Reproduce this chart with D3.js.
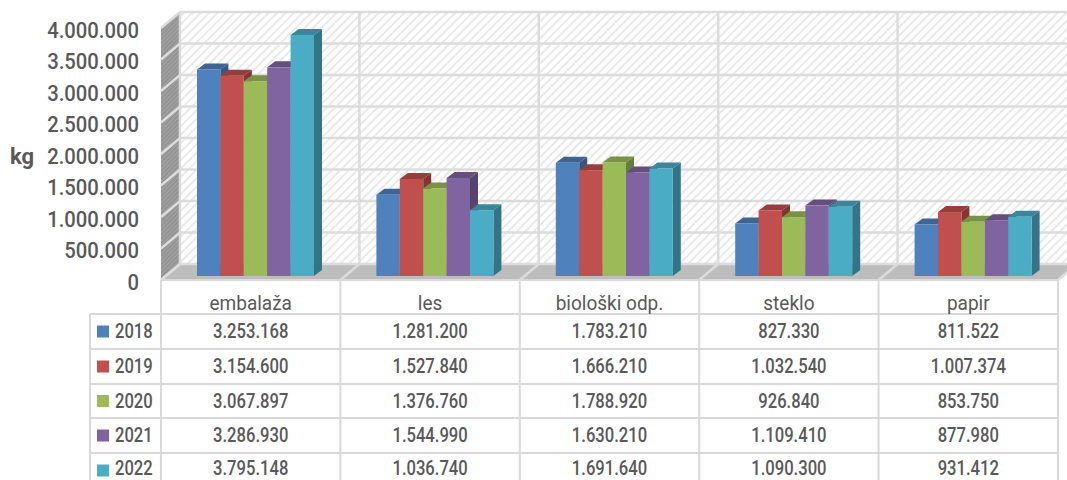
<!DOCTYPE html>
<html>
<head>
<meta charset="utf-8">
<script src="https://cdn.jsdelivr.net/npm/d3@7"></script>
<style>
html, body { margin: 0; padding: 0; background: #fff; overflow: hidden; }
text { font-family: Roboto, sans-serif; fill: #595959; }
</style>
</head>
<body>
<div id="chart"></div>
<script>
var categories = ["embalaža", "les", "biološki odp.", "steklo", "papir"];
var years = ["2018", "2019", "2020", "2021", "2022"];
var values2018 = [3253168, 1281200, 1783210, 827330, 811522];
var values2019 = [3154600, 1527840, 1666210, 1032540, 1007374];
var values2020 = [3067897, 1376760, 1788920, 926840, 853750];
var values2021 = [3286930, 1544990, 1630210, 1109410, 877980];
var values2022 = [3795148, 1036740, 1691640, 1090300, 931412];
var yTicks = [0, 500000, 1000000, 1500000, 2000000, 2500000, 3000000, 3500000, 4000000];
var colors = ["#4f81bd", "#c0504d", "#9bbb59", "#8064a2", "#4bacc6"];

var series = [values2018, values2019, values2020, values2021, values2022];

var width = 1067;
var height = 480;
var svg = d3.select("#chart").append("svg")
    .attr("width", width)
    .attr("height", height)
    .style("display", "block");

var numFmt = d3.formatLocale({ decimal: ",", thousands: ".", grouping: [3], currency: ["", ""] }).format(",d");

// depth offset of the fake 3d box
var dx = 19, dy = 16;
var x = d3.scaleBand().domain(categories).range([161, 1058]);
var y = d3.scaleLinear().domain([0, 4000000]).range([280, 28]);
var barY = d3.scaleLinear().domain([0, 4000000]).range([276, 22]);
var inner = d3.scaleBand().domain(years).range([36, 153]);

var defs = svg.append("defs");
var hatch = defs.append("pattern").attr("id", "hatch")
    .attr("width", 6).attr("height", 6)
    .attr("patternUnits", "userSpaceOnUse")
    .attr("patternTransform", "rotate(45)");
hatch.append("rect").attr("width", 6).attr("height", 6).attr("fill", "#fff");
hatch.append("rect").attr("width", 2).attr("height", 6).attr("fill", "#e9e9e9");
var dots = defs.append("pattern").attr("id", "dots")
    .attr("width", 3).attr("height", 3)
    .attr("patternUnits", "userSpaceOnUse")
    .attr("patternTransform", "rotate(45)");
dots.append("rect").attr("width", 3).attr("height", 3).attr("fill", "#a3a3a3");
dots.append("rect").attr("width", 1.5).attr("height", 3).attr("fill", "#8f8f8f");

var wallRight = 1077;
var grid = "#dcdcdc";

// back wall
svg.append("rect")
    .attr("x", 161 + dx).attr("y", y(4000000) - dy)
    .attr("width", wallRight - 161 - dx).attr("height", y(0) - y(4000000))
    .attr("fill", "url(#hatch)");
// left wall
svg.append("polygon")
    .attr("points", [[161, y(4000000)], [161 + dx, y(4000000) - dy], [161 + dx, y(0) - dy], [161, y(0)]].join(" "))
    .attr("fill", "url(#dots)");
// floor
svg.append("polygon")
    .attr("points", [[161, y(0)], [161 + dx, y(0) - dy], [wallRight, y(0) - dy], [wallRight - dx, y(0)]].join(" "))
    .attr("fill", "#bdbdbd");

// horizontal gridlines, wall and back
svg.selectAll(".gridBack").data(yTicks).enter().append("line")
    .attr("x1", 161 + dx).attr("x2", wallRight)
    .attr("y1", function(d) { return y(d) - dy; })
    .attr("y2", function(d) { return y(d) - dy; })
    .attr("stroke", grid).attr("stroke-width", 2.5);
svg.selectAll(".gridSide").data(yTicks).enter().append("line")
    .attr("x1", 161).attr("x2", 161 + dx)
    .attr("y1", function(d) { return y(d); })
    .attr("y2", function(d) { return y(d) - dy; })
    .attr("stroke", grid).attr("stroke-width", 2.5);

// verticals on back wall and floor
var edges = categories.map(function(c) { return x(c); }).concat([x.range()[1]]);
svg.selectAll(".gridV").data(edges).enter().append("line")
    .attr("x1", function(d) { return d + dx; }).attr("x2", function(d) { return d + dx; })
    .attr("y1", y(4000000) - dy).attr("y2", y(0) - dy)
    .attr("stroke", grid).attr("stroke-width", 2.5);
svg.selectAll(".gridF").data(edges).enter().append("line")
    .attr("x1", function(d) { return d; }).attr("x2", function(d) { return d + dx; })
    .attr("y1", y(0)).attr("y2", y(0) - dy)
    .attr("stroke", grid).attr("stroke-width", 2.5);

// bars, left to right so each front face covers its neighbour's side
var bdx = 8, bdy = 6;
years.forEach(function(yr, i) {
    var g = svg.append("g");
    var col = d3.color(colors[i]);
    g.selectAll("polygon.side").data(series[i]).enter().append("polygon")
        .attr("points", function(d, j) {
            var r = x(categories[j]) + inner(yr) + inner.bandwidth();
            return [[r, barY(d)], [r + bdx, barY(d) - bdy], [r + bdx, barY(0) - bdy], [r, barY(0)]].join(" ");
        })
        .attr("fill", col.darker(1.1));
    g.selectAll("polygon.top").data(series[i]).enter().append("polygon")
        .attr("points", function(d, j) {
            var l = x(categories[j]) + inner(yr);
            var r = l + inner.bandwidth();
            return [[l, barY(d)], [l + bdx, barY(d) - bdy], [r + bdx, barY(d) - bdy], [r, barY(d)]].join(" ");
        })
        .attr("fill", col.darker(0.7));
    g.selectAll("rect").data(series[i]).enter().append("rect")
        .attr("x", function(d, j) { return x(categories[j]) + inner(yr); })
        .attr("y", function(d) { return barY(d); })
        .attr("width", inner.bandwidth())
        .attr("height", function(d) { return barY(0) - barY(d); })
        .attr("fill", colors[i]);
});

// y axis
var axis = svg.append("g")
    .attr("class", "yaxis")
    .attr("transform", "translate(139,2)")
    .call(d3.axisLeft(y).tickValues(yTicks).tickSize(0).tickPadding(0).tickFormat(numFmt));
axis.select(".domain").remove();
axis.selectAll("text")
    .attr("font-size", 22).style("font-family", "Roboto, sans-serif").style("font-weight", 500).attr("fill", "#595959");

svg.append("text").attr("x", 22).attr("y", 164)
    .attr("text-anchor", "middle")
    .attr("font-size", 22).attr("font-weight", 700).text("kg");

// data table
var tableLeft = 90;
var rowEdges = [280, 314, 349, 384, 418, 453, 488];
var cellLine = "#d9d9d9";
svg.selectAll(".tv").data(edges).enter().append("line")
    .attr("x1", function(d) { return d; }).attr("x2", function(d) { return d; })
    .attr("y1", 280).attr("y2", height)
    .attr("stroke", cellLine).attr("stroke-width", 2);
svg.append("line").attr("x1", tableLeft).attr("x2", tableLeft)
    .attr("y1", rowEdges[1]).attr("y2", height)
    .attr("stroke", cellLine).attr("stroke-width", 2);
svg.selectAll(".th").data(rowEdges.slice(0, 6)).enter().append("line")
    .attr("x1", function(d, i) { return i === 0 ? 161 : tableLeft; })
    .attr("x2", x.range()[1])
    .attr("y1", function(d) { return d; }).attr("y2", function(d) { return d; })
    .attr("stroke", cellLine).attr("stroke-width", 2);

var catLabels = svg.selectAll(".cat").data(categories).enter().append("text")
    .attr("x", function(d) { return x(d) + x.bandwidth() / 2; })
    .attr("y", 310)
    .attr("text-anchor", "middle")
    .attr("font-size", 20)
    .text(function(d) { return d; });

years.forEach(function(yr, i) {
    var top = rowEdges[i + 1], bottom = rowEdges[i + 2];
    var mid = (top + bottom) / 2;
    // last row sits against the bottom of the window, keep its text inside
    var base = Math.min(mid + 6.5, 475);
    svg.append("rect").attr("x", 97).attr("y", mid - 6)
        .attr("width", 12).attr("height", 12).attr("fill", colors[i]);
    svg.append("text").attr("class", "tbl").attr("x", 115).attr("y", base)
        .attr("font-size", 20).attr("font-weight", 500).text(yr);
    svg.selectAll(".v" + i).data(series[i]).enter().append("text")
        .attr("class", "tbl")
        .attr("x", function(d, j) { return x(categories[j]) + x.bandwidth() / 2; })
        .attr("y", base)
        .attr("text-anchor", "middle")
        .attr("font-size", 20)
        .attr("font-weight", 500)
        .text(function(d) { return numFmt(d); });
});

// the original face is narrower than anything installed
function squeeze(sel, k) {
    sel.each(function() {
        var len = this.getComputedTextLength();
        d3.select(this).attr("textLength", len * k).attr("lengthAdjust", "spacingAndGlyphs");
    });
}
squeeze(svg.selectAll("text.tbl"), 0.83);
squeeze(catLabels, 0.95);
squeeze(axis.selectAll("text"), 0.92);
</script>
</body>
</html>
